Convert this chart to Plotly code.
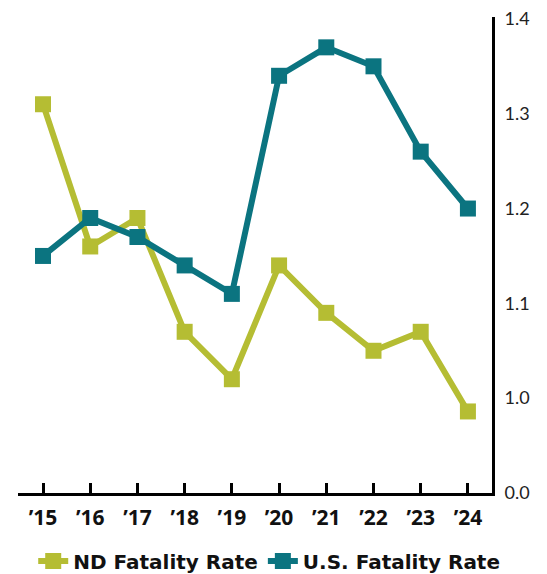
import plotly.graph_objects as go

years = ["’15", "’16", "’17", "’18", "’19", "’20", "’21", "’22", "’23", "’24"]
nd_rate = [1.31, 1.16, 1.19, 1.07, 1.02, 1.14, 1.09, 1.05, 1.07, 0.986]
us_rate = [1.15, 1.19, 1.17, 1.14, 1.11, 1.34, 1.37, 1.35, 1.26, 1.20]
y_tickvals = [0.9, 1.0, 1.1, 1.2, 1.3, 1.4]
y_ticktext = ["0.0", "1.0", "1.1", "1.2", "1.3", "1.4"]

ND_COLOR = "#b5bd33"
US_COLOR = "#0b7480"
x_idx = list(range(len(years)))

fig = go.Figure()
fig.add_trace(go.Scatter(
    x=x_idx, y=nd_rate, name="ND Fatality Rate", mode="lines+markers",
    line=dict(color=ND_COLOR, width=6),
    marker=dict(symbol="square", size=16, color=ND_COLOR),
))
fig.add_trace(go.Scatter(
    x=x_idx, y=us_rate, name="U.S. Fatality Rate", mode="lines+markers",
    line=dict(color=US_COLOR, width=6),
    marker=dict(symbol="square", size=16, color=US_COLOR),
))

fig.update_layout(
    width=547, height=574,
    margin=dict(l=18, r=55, t=17, b=81, autoexpand=False),
    paper_bgcolor="white", plot_bgcolor="white",
    font=dict(family="Open Sans, sans-serif", color="#111111"),
    showlegend=True,
    legend=dict(orientation="h", x=0.53, xanchor="center", y=-0.143, yanchor="middle",
                font=dict(size=20, family="DejaVu Sans, sans-serif", weight="bold"),
                tracegroupgap=0),
    xaxis=dict(
        range=[-0.53, 9.51], tickvals=x_idx, ticktext=years,
        showgrid=False, zeroline=False, showline=True, linecolor="black", linewidth=3,
        ticks="inside", ticklen=10, tickwidth=3, tickcolor="black",
        ticklabelstandoff=4,
        tickfont=dict(size=21, family="Open Sans, sans-serif", weight="bold", color="#111111"),
        fixedrange=True,
    ),
    yaxis=dict(
        side="right", range=[0.9, 1.402], tickvals=y_tickvals, ticktext=y_ticktext,
        showgrid=False, zeroline=False, showline=True, linecolor="black", linewidth=3,
        ticks="", ticklabelstandoff=6,
        tickfont=dict(size=18, family="Lato, sans-serif", color="#222222"),
        fixedrange=True,
    ),
)

fig.write_html("out.html", config={"displayModeBar": False},
               post_script="document.body.style.margin='0';document.body.style.overflow='hidden';")
